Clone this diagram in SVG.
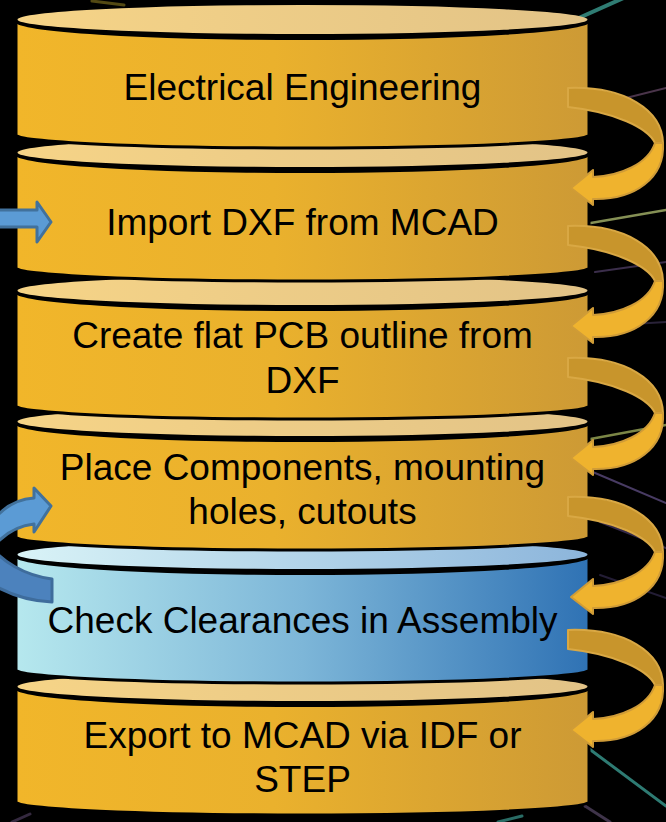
<svg xmlns="http://www.w3.org/2000/svg" width="666" height="822" viewBox="0 0 666 822">
<defs>
<linearGradient id="goldBody" x1="0" y1="0" x2="1" y2="0">
<stop offset="0" stop-color="#F1B62A"/>
<stop offset="0.45" stop-color="#EAB12D"/>
<stop offset="1" stop-color="#CD9A35"/>
</linearGradient>
<linearGradient id="goldTop" x1="0" y1="0" x2="1" y2="0">
<stop offset="0" stop-color="#F6D487"/>
<stop offset="1" stop-color="#E2C387"/>
</linearGradient>
<linearGradient id="blueBody" x1="0" y1="0" x2="1" y2="0">
<stop offset="0" stop-color="#B6E8EE"/>
<stop offset="0.5" stop-color="#7DB6D8"/>
<stop offset="1" stop-color="#2F72B4"/>
</linearGradient>
<linearGradient id="blueTop" x1="0" y1="0" x2="1" y2="0">
<stop offset="0" stop-color="#D9F3F7"/>
<stop offset="1" stop-color="#8CB5DB"/>
</linearGradient>
<style>
.body{stroke:#000;stroke-width:3}
.rim{fill:#000}
.lbl{font-family:"Liberation Sans",Arial,sans-serif;font-size:37px;fill:#000;text-anchor:middle}
.gback{fill:#C8952C;stroke:#D9A844;stroke-width:2;stroke-linejoin:round}
.gfront{fill:#EFB32E;stroke:#D09C37;stroke-width:2;stroke-linejoin:round}
.bfront{fill:#5B9BD5;stroke:#41719C;stroke-width:3;stroke-linejoin:round}
.bback{fill:#4C82BD;stroke:#3E6C9C;stroke-width:3;stroke-linejoin:round}
.bg{fill:none;stroke-linecap:round}
</style>
</defs>
<rect x="0" y="0" width="666" height="822" fill="#000"/>
<g id="background" class="bg">
<line x1="92" y1="1" x2="124" y2="5" stroke="#8A7A20" stroke-width="3" opacity="0.6"/>
<line x1="628" y1="-4" x2="552" y2="30" stroke="#3FA59A" stroke-width="4" opacity="0.75"/>
<line x1="610" y1="102" x2="666" y2="88" stroke="#6A4A6A" stroke-width="2" opacity="0.7"/>
<line x1="585" y1="224" x2="666" y2="210" stroke="#A6B46A" stroke-width="2.5" opacity="0.8"/>
<line x1="595" y1="272" x2="666" y2="262" stroke="#4A3A5E" stroke-width="2" opacity="0.8"/>
<line x1="600" y1="326" x2="666" y2="322" stroke="#3A3050" stroke-width="2" opacity="0.7"/>
<line x1="585" y1="440" x2="666" y2="425" stroke="#9AA858" stroke-width="2.5" opacity="0.8"/>
<line x1="588" y1="470" x2="666" y2="503" stroke="#5A4A7C" stroke-width="2" opacity="0.8"/>
<line x1="600" y1="522" x2="666" y2="548" stroke="#4A3A6A" stroke-width="2" opacity="0.7"/>
<line x1="600" y1="575" x2="666" y2="598" stroke="#3A3058" stroke-width="2" opacity="0.6"/>
<line x1="588" y1="748" x2="666" y2="806" stroke="#3A9A90" stroke-width="3" opacity="0.8"/>
<line x1="585" y1="806" x2="610" y2="822" stroke="#5A4A6A" stroke-width="3" opacity="0.7"/>
<line x1="498" y1="822" x2="522" y2="816" stroke="#3A9A90" stroke-width="3" opacity="0.7"/>
<line x1="12" y1="822" x2="30" y2="814" stroke="#4A3A5A" stroke-width="3" opacity="0.7"/>
</g>
<g id="node6">
<path class="body" fill="url(#goldBody)" d="M16,689 L16,802 A286.5,13 0 0 0 589,802 L589,689 Z"/>
<ellipse class="rim" cx="302.5" cy="689" rx="287" ry="18"/>
<ellipse fill="url(#goldTop)" cx="302.5" cy="686.5" rx="285" ry="14.5"/>
<text class="lbl" x="302.5" y="748">Export to MCAD via IDF or</text>
<text class="lbl" x="302.5" y="792">STEP</text>
</g>
<g id="node5">
<path class="body" fill="url(#blueBody)" d="M16,557 L16,670 A286.5,13 0 0 0 589,670 L589,557 Z"/>
<ellipse class="rim" cx="302.5" cy="557" rx="287" ry="18"/>
<ellipse fill="url(#blueTop)" cx="302.5" cy="554.5" rx="285" ry="14.5"/>
<text class="lbl" x="302.5" y="633">Check Clearances in Assembly</text>
</g>
<g id="node4">
<path class="body" fill="url(#goldBody)" d="M16,424 L16,537 A286.5,13 0 0 0 589,537 L589,424 Z"/>
<ellipse class="rim" cx="302.5" cy="424" rx="287" ry="18"/>
<ellipse fill="url(#goldTop)" cx="302.5" cy="421.5" rx="285" ry="14.5"/>
<text class="lbl" x="302.5" y="480">Place Components, mounting</text>
<text class="lbl" x="302.5" y="524">holes, cutouts</text>
</g>
<g id="node3">
<path class="body" fill="url(#goldBody)" d="M16,293 L16,406 A286.5,13 0 0 0 589,406 L589,293 Z"/>
<ellipse class="rim" cx="302.5" cy="293" rx="287" ry="18"/>
<ellipse fill="url(#goldTop)" cx="302.5" cy="290.5" rx="285" ry="14.5"/>
<text class="lbl" x="302.5" y="348">Create flat PCB outline from</text>
<text class="lbl" x="302.5" y="393">DXF</text>
</g>
<g id="node2">
<path class="body" fill="url(#goldBody)" d="M16,155 L16,268 A286.5,13 0 0 0 589,268 L589,155 Z"/>
<ellipse class="rim" cx="302.5" cy="155" rx="287" ry="18"/>
<ellipse fill="url(#goldTop)" cx="302.5" cy="152.5" rx="285" ry="14.5"/>
<text class="lbl" x="302.5" y="235">Import DXF from MCAD</text>
</g>
<g id="node1">
<path class="body" fill="url(#goldBody)" d="M16,22 L16,135 A286.5,13 0 0 0 589,135 L589,22 Z"/>
<ellipse class="rim" cx="302.5" cy="22" rx="287" ry="18"/>
<ellipse fill="url(#goldTop)" cx="302.5" cy="19.5" rx="285" ry="14.5"/>
<text class="lbl" x="302.5" y="100">Electrical Engineering</text>
</g>
<g id="connectors">
<g id="arrow-1-2">
<path class="gback" d="M568,88 C625,86 662,110 663,143 L655,143 C648,128 615,112 568,107 Z"/>
<path class="gfront" d="M663,143 C665,178 635,200 593,199 L593,205 L571,188 L593,170 L593,177 C620,176 648,164 655,143 Z"/>
</g>
<g id="arrow-2-3">
<path class="gback" d="M568,226 C625,224 662,248 663,281 L655,281 C648,266 615,250 568,245 Z"/>
<path class="gfront" d="M663,281 C665,316 635,338 593,337 L593,343 L571,326 L593,308 L593,315 C620,314 648,302 655,281 Z"/>
</g>
<g id="arrow-3-4">
<path class="gback" d="M568,358 C625,356 662,380 663,413 L655,413 C648,398 615,382 568,377 Z"/>
<path class="gfront" d="M663,413 C665,448 635,470 593,469 L593,475 L571,458 L593,440 L593,447 C620,446 648,434 655,413 Z"/>
</g>
<g id="arrow-4-5">
<path class="gback" d="M568,497 C625,495 662,519 663,552 L655,552 C648,537 615,521 568,516 Z"/>
<path class="gfront" d="M663,552 C665,587 635,609 593,608 L593,614 L571,597 L593,579 L593,586 C620,585 648,573 655,552 Z"/>
</g>
<g id="arrow-5-6">
<path class="gback" d="M568,630 C625,628 662,652 663,685 L655,685 C648,670 615,654 568,649 Z"/>
<path class="gfront" d="M663,685 C665,720 635,742 593,741 L593,747 L571,730 L593,712 L593,719 C620,718 648,706 655,685 Z"/>
</g>
<g id="arrow-in-2">
<path class="bfront" d="M-5,210 L37,210 L37,202 L51,222 L37,242 L37,227 L-5,227 Z"/>
</g>
<g id="arrow-5-4">
<path class="bback" d="M52,579 L52,602 C30,601 10,595 -8,584 L-8,548 C2,560 22,575 52,579 Z"/>
<path class="bfront" d="M51,506 L34,488 L34,498 C18,499 4,506 -8,522 L-8,548 C2,536 16,526 34,524 L34,532 Z"/>
</g>
</g>
</svg>
